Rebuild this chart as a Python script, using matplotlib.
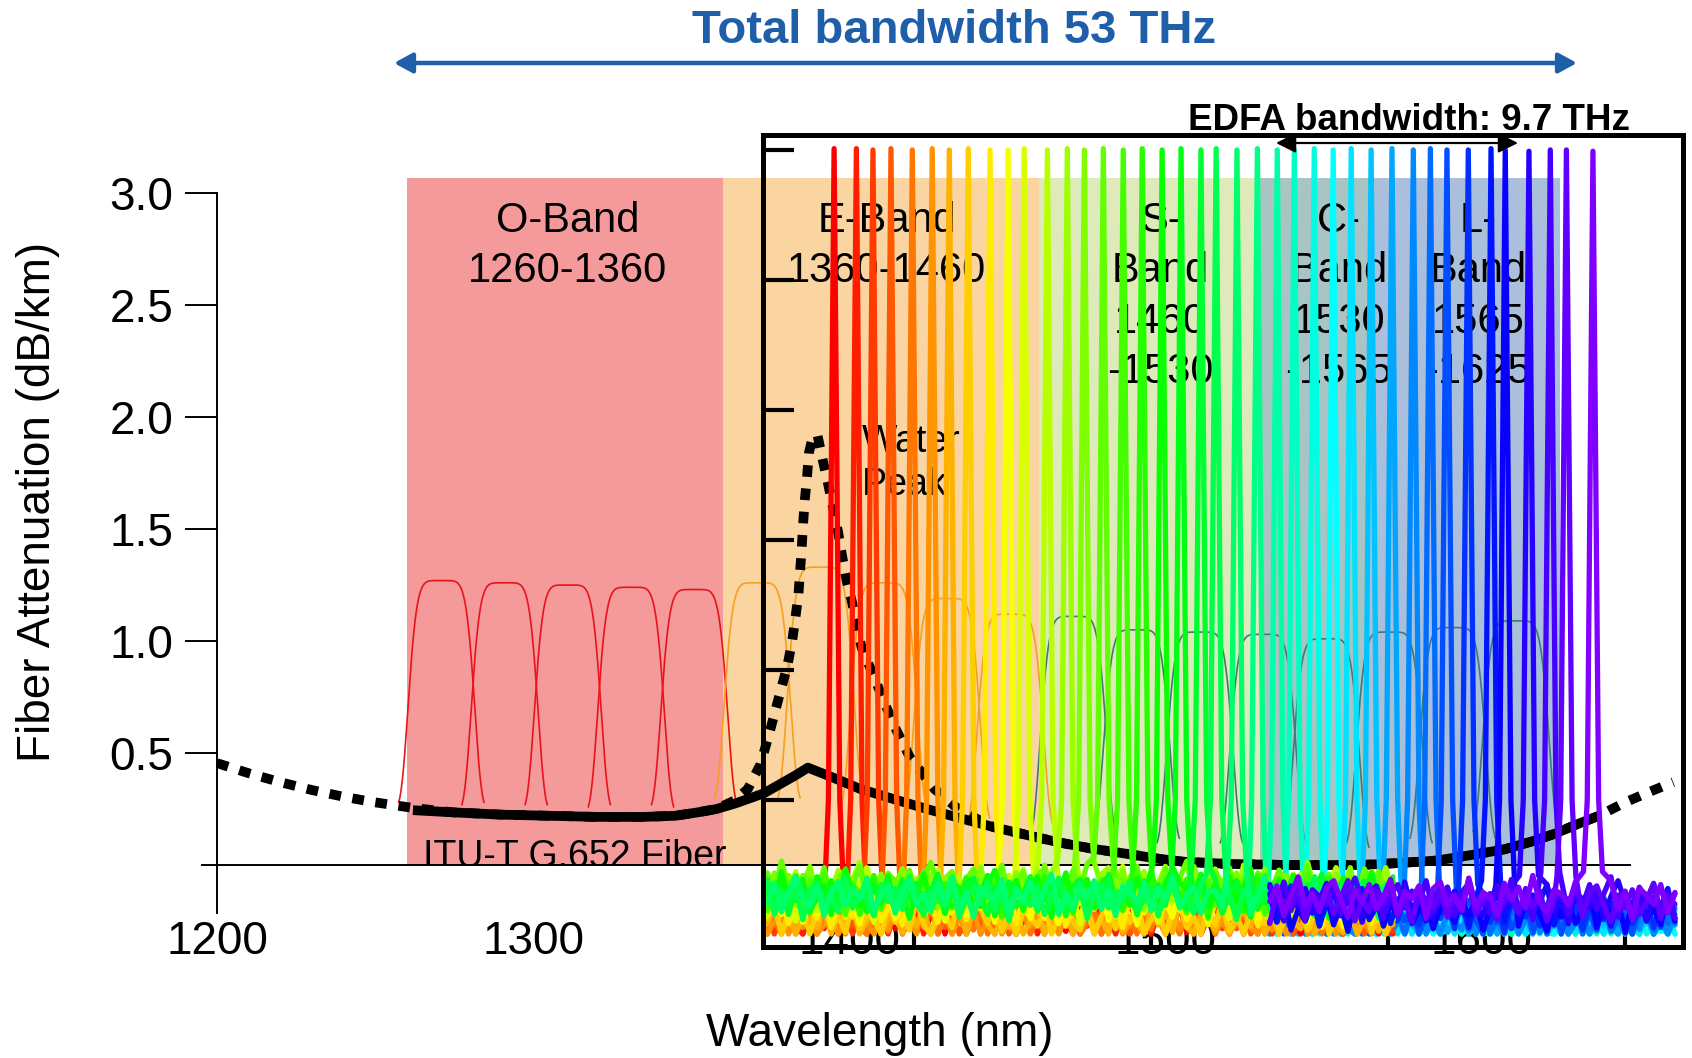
import matplotlib
matplotlib.use("Agg")
import matplotlib.pyplot as plt
import numpy as np
from matplotlib.colors import hsv_to_rgb
from matplotlib.patches import FancyArrowPatch
from matplotlib.transforms import Bbox, TransformedBbox

plt.rcParams["font.family"] = ["Liberation Sans", "DejaVu Sans"]

W, H = 1692, 1058  # canvas size in px

# --- fibre attenuation (dB/km) ---
# solid: low-water-peak fibre
wl_solid = [1262, 1275, 1290, 1305, 1320, 1335, 1345, 1352, 1358, 1364,
            1369, 1373, 1378, 1383, 1387, 1395, 1403.5, 1414, 1424.7, 1435,
            1445.6, 1456, 1466.8, 1477, 1488, 1497, 1505.7, 1520, 1540, 1562,
            1575, 1585.8, 1597, 1607.3, 1616, 1623.4, 1630, 1637.3]
att_solid = [0.245, 0.235, 0.225, 0.22, 0.215, 0.215, 0.22, 0.235, 0.25, 0.275,
             0.30, 0.32, 0.36, 0.40, 0.435, 0.39, 0.34, 0.295, 0.25, 0.21,
             0.17, 0.135, 0.10, 0.073, 0.05, 0.03, 0.015, 0.005, 0.0, 0.0,
             0.01, 0.02, 0.045, 0.07, 0.105, 0.14, 0.18, 0.22]
# dotted: standard fibre with water peak
wl_dot = [1200, 1210, 1220, 1230, 1240, 1250,
          1262, 1275, 1290, 1305, 1320, 1335, 1345, 1352, 1358,
          1364, 1368, 1372, 1375, 1378,
          1380.5, 1382, 1383, 1384, 1384.5,
          1385, 1385.5, 1386, 1386.7, 1387.3,
          1388.5, 1390, 1391.8, 1393.4, 1395,
          1396.5, 1397.8, 1399.4, 1401, 1402.5,
          1404, 1407.6, 1414, 1419.3, 1427,
          1435, 1445.6,
          1456, 1466.8, 1477, 1488, 1497, 1505.7, 1520, 1540, 1562,
          1575, 1585.8, 1597, 1607.3, 1616, 1623.4, 1630, 1637.3,
          1645.6, 1653, 1660.8]
att_dot = [0.455, 0.41, 0.37, 0.335, 0.305, 0.28,
           0.255, 0.235, 0.225, 0.22, 0.215, 0.215, 0.22, 0.235, 0.25,
           0.29, 0.34, 0.45, 0.60, 0.76,
           0.89, 1.00, 1.10, 1.21, 1.31,
           1.41, 1.53, 1.63, 1.73, 1.84,
           1.91, 1.92, 1.80, 1.70, 1.59,
           1.49, 1.38, 1.26, 1.17, 1.06,
           0.97, 0.85, 0.63, 0.48, 0.34,
           0.245, 0.17,
           0.135, 0.10, 0.073, 0.05, 0.03, 0.015, 0.005, 0.0, 0.0,
           0.01, 0.02, 0.045, 0.07, 0.105, 0.14, 0.18, 0.22,
           0.28, 0.325, 0.37]

# --- transmission bands (nm) ---
band_lo = [1260, 1360, 1460, 1530, 1565]
band_hi = [1360, 1460, 1530, 1565, 1625]
band_colors = ["#f49a9a", "#fad5a1", "#dfeabb", "#a9c4c4", "#a9bfdb"]
band_top = 3.067

# --- CWDM filter channels ---
cwdm_center = [1271, 1291, 1311, 1331, 1351, 1371, 1391, 1411, 1431,
               1451, 1471, 1491, 1511, 1531, 1551, 1571, 1591, 1611]
cwdm_top = [1.27, 1.26, 1.25, 1.24, 1.23, 1.26, 1.33, 1.26, 1.19,
            1.12, 1.11, 1.05, 1.04, 1.03, 1.01, 1.04, 1.06, 1.09]
cwdm_base = [0.28, 0.27, 0.27, 0.26, 0.27, 0.30, 0.30, 0.26, 0.21,
             0.18, 0.13, 0.12, 0.10, 0.10, 0.08, 0.10, 0.12, 0.15]
cwdm_colors = ["#e8141a"] * 5 + ["#f5a01e"] * 5 + ["#3e7b76"] * 8

# --- inset: measured channel spectra (dBm) ---
ch_center = [1433.1, 1437.8, 1441.3, 1445.1, 1449.6, 1453.8, 1457.4, 1461.4,
             1466.0, 1469.8, 1473.2, 1478.1, 1482.3, 1485.9, 1489.9, 1494.1,
             1498.1, 1502.3, 1506.3, 1510.5, 1513.7, 1518.1, 1522.4, 1526.6,
             1530.2, 1534.4, 1538.4, 1542.2, 1546.4, 1550.8, 1555.3, 1558.9,
             1562.4, 1566.9, 1571.7, 1574.7, 1579.7, 1584.2, 1587.6, 1593.2]
ch_peak = [0.1, 0.1, 0.0, 0.1, 0.0, 0.1, 0.0, 0.1, 0.0, 0.0,
           0.1, 0.0, 0.1, 0.0, 0.1, 0.0, 0.1, 0.0, 0.1, 0.0,
           0.1, 0.0, 0.1, 0.0, 0.0, 0.1, 0.0, 0.1, 0.0, 0.1,
           0.0, 0.1, 0.0, 0.0, 0.1, 0.0, -0.1, 0.0, 0.0, -0.1]
ch_floor = [-59.0, -59.3, -59.0, -59.4, -59.5, -59.6, -59.4, -59.2, -58.3, -58.0,
            -57.8, -56.8, -56.5, -56.7, -56.4, -57.2, -57.4, -57.0, -57.5, -57.3,
            -57.6, -57.4, -60.0, -59.8, -59.9, -59.7, -59.6, -59.8, -59.4, -59.3,
            -59.5, -59.2, -59.0, -58.5, -58.2, -58.6, -57.8, -57.6, -57.9, -57.5]
noise_trace = [0.4, -0.8, 1.1, -0.3, 0.9, -1.4, 0.2, 1.6, -0.6, 0.3,
               -1.1, 0.8, 1.3, -0.2, -1.5, 0.6, -0.4, 1.0, -0.9, 0.1,
               1.4, -1.2, 0.5, -0.1, 0.9, -1.6, 0.7, 1.2, -0.5, 0.2,
               -1.0, 1.5, -0.7, 0.4, 0.0, -1.3, 1.1, -0.2, 0.8, -0.8,
               1.7, -0.4, -1.1, 0.6, 0.3, -0.6, 1.2, -1.4, 0.1, 0.9,
               -0.3, 1.3, -0.9, 0.5, -1.7, 0.7, 0.2, -0.5, 1.0, -1.2,
               0.4, 1.6, -0.1, -0.8, 0.8, -1.5, 0.3, 1.1, -0.7, 0.6,
               -0.2, 1.4, -1.0, 0.0, 0.9, -1.3, 0.5, 1.2, -0.6, 0.2,
               -1.1, 1.0, -0.4, 1.5, -0.9, 0.3, -1.6, 0.7, 0.1, -0.3,
               1.3, -1.2, 0.6, -0.5, 1.1, -0.8, 0.4, 1.7, -1.4, 0.2,
               -0.7, 0.9, -0.1, 1.2, -1.0, 0.5, -1.5, 0.8, 0.3, -0.4,
               1.0, -1.1, 0.6, -0.2, 1.4, -0.9, 0.1, 0.7, -1.3, 0.4]

fig = plt.figure(figsize=(W / 100, H / 100), dpi=100)
fig.patch.set_facecolor("white")

# main attenuation axes
ax = fig.add_axes([217 / W, 1 - 913 / H, 1466 / W, 778 / H])
ax.set_xlim(1200, 1663.9)
ax.set_ylim(-0.214, 3.259)

for lo, hi, c in zip(band_lo, band_hi, band_colors):
    ax.fill_between([lo, hi], 0, band_top, color=c, lw=0, zorder=0)

# flat-top filter passbands, legs run down to the base value
dx = np.linspace(-13.5, 13.5, 221)
shape = np.exp(-np.log(2) * (np.abs(dx) / 10.3) ** 6)
shape = (shape - shape[0]) / (1 - shape[0])
for c, top, base, col in zip(cwdm_center, cwdm_top, cwdm_base, cwdm_colors):
    ax.plot(c + dx, base + (top - base) * shape, color=col, lw=1.2, zorder=1)

ax.plot(wl_dot, att_dot, color="black", lw=7, linestyle=(0, (1.2, 1.2)),
        dash_capstyle="butt", zorder=2)
ax.plot(wl_solid, att_solid, color="black", lw=7, solid_capstyle="butt", zorder=3)
ax.plot([1195.3, 1647], [0, 0], color="black", lw=1.4, clip_on=False, zorder=3)

for sp in ["top", "right", "bottom"]:
    ax.spines[sp].set_visible(False)
ax.spines["left"].set_linewidth(1.4)
ax.spines["left"].set_bounds(-0.214, 3.0)
ax.set_yticks([0.5, 1.0, 1.5, 2.0, 2.5, 3.0])
ax.set_yticklabels(["0.5", "1.0", "1.5", "2.0", "2.5", "3.0"])
ax.set_xticks([1200, 1300, 1400, 1500, 1600])
ax.tick_params(axis="y", direction="out", length=23, width=1.4, pad=8.5, labelsize=33)
ax.tick_params(axis="x", length=0, pad=5, labelsize=33)
ax.patch.set_visible(False)


def ypx(p):
    return (865 - p) / 224.0


# band labels
for x, lines in [(1311, ["O-Band", "1260-1360"]),
                 (1412, ["E-Band", "1360-1460"]),
                 (1498.6, ["S-", "Band", "1460", "-1530"]),
                 (1555, ["C-", "Band", "1530", "-1565"]),
                 (1599, ["L-", "Band", "1565", "-1625"])]:
    for k, s in enumerate(lines):
        ax.text(x, ypx(231.5 + 50.5 * k), s, ha="center", va="baseline",
                fontsize=30, zorder=4)

ax.text(1404.1, ypx(452), "Water", ha="left", va="baseline", fontsize=27, zorder=4)
ax.text(1404.1, ypx(495), "Peak", ha="left", va="baseline", fontsize=27, zorder=4)
itu = ax.text(1265.2, -0.01, "ITU-T G.652 Fiber", ha="left", va="baseline",
              fontsize=27, zorder=4)
itu.set_clip_box(TransformedBbox(Bbox([[1200, 0], [1700, 4]]), ax.transData))
itu.set_clip_on(True)

fig.text(38 / W, 1 - 502 / H, "Fiber Attenuation (dB/km)", rotation=90,
         ha="center", va="center", fontsize=33)
fig.text(880 / W, 1 - 1046 / H, "Wavelength (nm)", ha="center", va="baseline",
         fontsize=33)

# inset: optical spectrum of the comb channels
ins = fig.add_axes([763 / W, 1 - 947 / H, 920 / W, 812 / H])
ins.set_facecolor("none")
ins.set_xlim(1418.1, 1612.2)
ins.set_ylim(-61.3, 1.15)

left_grid = np.arange(1419.0, 1552.0, 1.5)
right_grid = np.arange(1525.0, 1611.5, 1.5)
n_tr = len(noise_trace)
# cyan/blue sweep first, then the red-green sweep, violet last on top
draw_order = list(range(22, 34)) + list(range(0, 22)) + list(range(34, 40))
for i in draw_order:
    c, p, fl = ch_center[i], ch_peak[i], ch_floor[i]
    grid = left_grid if i < 22 else right_grid
    shift = (i * 37) % n_tr
    nz = np.array([noise_trace[(k + shift) % n_tr] for k in range(len(grid))])
    ys = np.maximum(fl + nz, -60.3)
    keep = np.abs(grid - c) > 2.4
    xs = np.concatenate([grid[keep], [c - 2.0, c - 1.2, c, c + 1.2, c + 2.0]])
    ys = np.concatenate([ys[keep], [fl + 2.0, -50.0, p, -50.0, fl + 2.0]])
    order = np.argsort(xs)
    col = hsv_to_rgb((0.75 * i / 39.0, 1.0, 1.0))
    ins.plot(xs[order], ys[order], color=col, lw=3.8, solid_joinstyle="round",
             solid_capstyle="round")

for sp in ins.spines.values():
    sp.set_linewidth(3.6)
ins.set_yticks([0, -10, -20, -30, -40, -50, -60])
ins.set_xticks([1450, 1500, 1550, 1600])
ins.tick_params(axis="y", direction="in", length=22, width=3,
                labelleft=False)
ins.tick_params(axis="x", direction="in", length=26, width=3,
                labelbottom=False)

# bandwidth arrows and titles
fig.text(954 / W, 1 - 43 / H, "Total bandwidth 53 THz", ha="center", va="baseline",
         fontsize=34, fontweight="bold", color="#1f5faa")
fig.add_artist(FancyArrowPatch((394 / W, 1 - 63 / H), (1577 / W, 1 - 63 / H),
                               transform=fig.transFigure,
                               arrowstyle="<|-|>,head_length=0.55,head_width=0.3",
                               mutation_scale=20, lw=3.2, color="#1f5faa",
                               shrinkA=0, shrinkB=0))
fig.text(1409 / W, 1 - 130 / H, "EDFA bandwidth: 9.7 THz", ha="center",
         va="baseline", fontsize=26.5, fontweight="bold")
fig.add_artist(FancyArrowPatch((1276 / W, 1 - 143 / H), (1518 / W, 1 - 143 / H),
                               transform=fig.transFigure,
                               arrowstyle="<|-|>,head_length=0.6,head_width=0.3",
                               mutation_scale=20, lw=1.6, color="black",
                               shrinkA=0, shrinkB=0))

fig.savefig("out.png", dpi=100)
